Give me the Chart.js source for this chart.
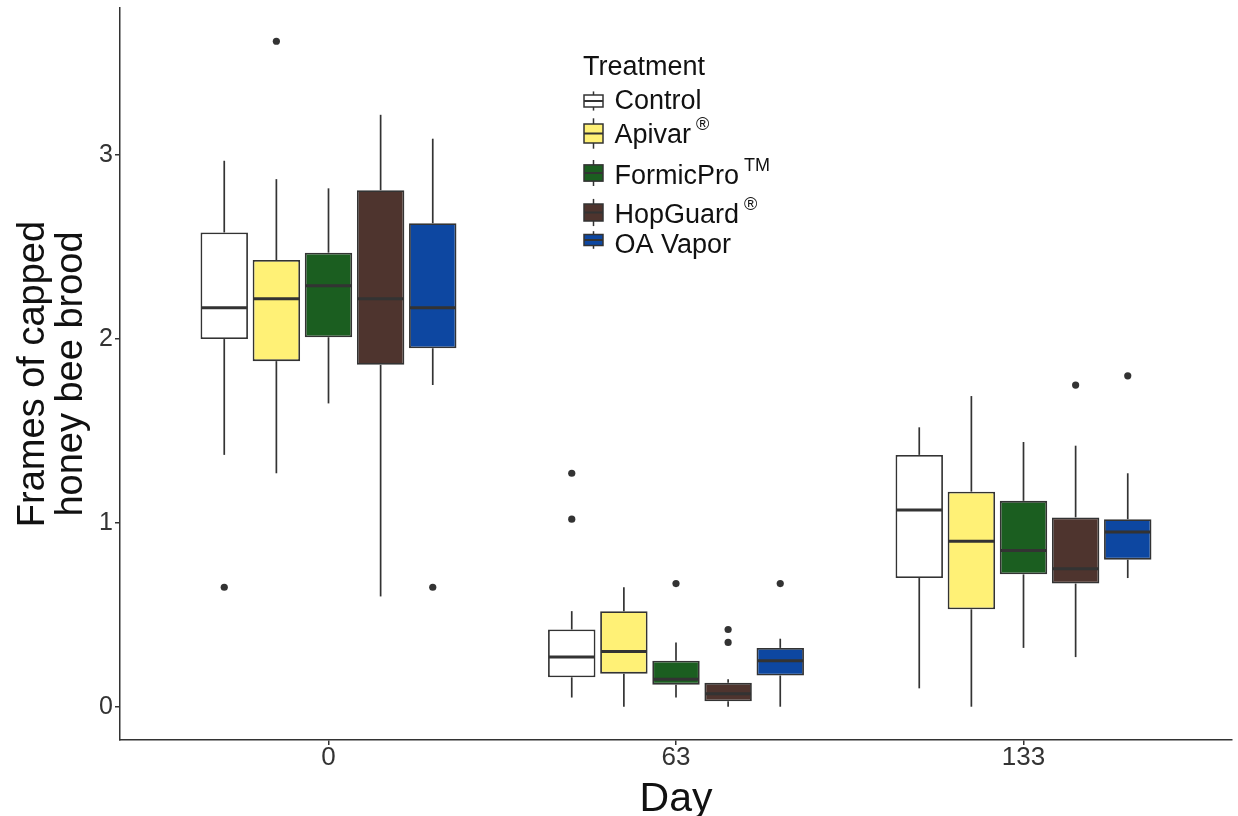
<!DOCTYPE html>
<html>
<head>
<meta charset="utf-8">
<script src="https://cdn.jsdelivr.net/npm/chart.js@4.4.1/dist/chart.umd.min.js"></script>
<style>
  html, body { margin: 0; background: #fff; }
</style>
</head>
<body>
<canvas id="brood" width="1238" height="816"></canvas>
<script>
(function(){
  const days = ['0', '63', '133'];
  const treatments = ['Control', 'Apivar', 'FormicPro', 'HopGuard', 'OA Vapor'];
  const marks = ['', '®', 'TM', '®', ''];
  const fills = ['#ffffff', '#fff176', '#1b5e20', '#4e342e', '#0d47a1'];
  const yTicks = [0, 1, 2, 3];

  // [lower whisker, q1, median, q3, upper whisker] for day 0, 63, 133
  const control   = [[1.37, 2.00, 2.17, 2.58, 2.97], [0.05, 0.16, 0.27, 0.42, 0.52], [0.10, 0.70, 1.07, 1.37, 1.52]];
  const apivar    = [[1.27, 1.88, 2.22, 2.43, 2.87], [0.00, 0.18, 0.30, 0.52, 0.65], [0.00, 0.53, 0.90, 1.17, 1.69]];
  const formicPro = [[1.65, 2.01, 2.29, 2.47, 2.82], [0.05, 0.12, 0.15, 0.25, 0.35], [0.32, 0.72, 0.85, 1.12, 1.44]];
  const hopGuard  = [[0.60, 1.86, 2.22, 2.81, 3.22], [0.00, 0.03, 0.07, 0.13, 0.15], [0.27, 0.67, 0.75, 1.03, 1.42]];
  const oaVapor   = [[1.75, 1.95, 2.17, 2.63, 3.09], [0.00, 0.17, 0.25, 0.32, 0.37], [0.70, 0.80, 0.95, 1.02, 1.27]];

  // outlying colonies per day
  const controlOut   = [[0.65], [1.27, 1.02], []];
  const apivarOut    = [[3.62], [], []];
  const formicProOut = [[], [0.67], []];
  const hopGuardOut  = [[], [0.42, 0.35], [1.75]];
  const oaVaporOut   = [[0.65], [0.67], [1.80]];

  const summaries = [control, apivar, formicPro, hopGuard, oaVapor];
  const outliers = [controlOut, apivarOut, formicProOut, hopGuardOut, oaVaporOut];

  const FONT = '"Liberation Sans", Arial, sans-serif';
  const INK = '#333333';

  function line(ctx, x1, y1, x2, y2) {
    ctx.beginPath();
    ctx.moveTo(x1, y1);
    ctx.lineTo(x2, y2);
    ctx.stroke();
  }

  // whiskers behind the boxes, medians and outlier dots on top
  const boxParts = {
    id: 'boxParts',
    beforeDatasetsDraw(chart) {
      const {ctx} = chart;
      const y = chart.scales.y;
      ctx.save();
      ctx.strokeStyle = INK;
      ctx.lineWidth = 1.7;
      chart.data.datasets.forEach((ds, i) => {
        chart.getDatasetMeta(i).data.forEach((bar, j) => {
          const s = ds.stats[j];
          line(ctx, bar.x, y.getPixelForValue(s[0]), bar.x, y.getPixelForValue(s[1]));
          line(ctx, bar.x, y.getPixelForValue(s[3]), bar.x, y.getPixelForValue(s[4]));
        });
      });
      ctx.restore();
    },
    afterDatasetsDraw(chart) {
      const {ctx} = chart;
      const y = chart.scales.y;
      ctx.save();
      ctx.strokeStyle = INK;
      ctx.fillStyle = INK;
      ctx.lineWidth = 3;
      chart.data.datasets.forEach((ds, i) => {
        chart.getDatasetMeta(i).data.forEach((bar, j) => {
          const half = bar.width / 2;
          const m = y.getPixelForValue(ds.stats[j][2]);
          line(ctx, bar.x - half + 1, m, bar.x + half - 1, m);
          ds.extra[j].forEach(v => {
            ctx.beginPath();
            ctx.arc(bar.x, y.getPixelForValue(v), 3.6, 0, Math.PI * 2);
            ctx.fill();
          });
        });
      });
      ctx.restore();
    }
  };

  // legend with boxplot keys, sized like the rows they sit in
  const keyRows = [
    {mid: 101, h: 24, base: 109},
    {mid: 133.5, h: 38, base: 143},
    {mid: 173, h: 32.5, base: 184},
    {mid: 212.5, h: 34, base: 223},
    {mid: 240, h: 22, base: 253},
  ];

  const treatmentKeys = {
    id: 'treatmentKeys',
    afterDraw(chart) {
      const {ctx} = chart;
      const cx = 593.5, half = 9.5, textX = 614.5;
      ctx.save();
      ctx.textBaseline = 'alphabetic';
      ctx.textAlign = 'left';
      ctx.fillStyle = '#111';
      ctx.font = '27px ' + FONT;
      ctx.fillText('Treatment', 583, 75);
      treatments.forEach((name, i) => {
        const row = keyRows[i];
        ctx.strokeStyle = INK;
        ctx.lineWidth = 1.5;
        line(ctx, cx, row.mid - row.h * 0.4, cx, row.mid + row.h * 0.4);
        ctx.fillStyle = fills[i];
        ctx.fillRect(cx - half, row.mid - row.h / 4, half * 2, row.h / 2);
        ctx.strokeRect(cx - half, row.mid - row.h / 4, half * 2, row.h / 2);
        ctx.lineWidth = 2;
        line(ctx, cx - half, row.mid, cx + half, row.mid);

        ctx.fillStyle = '#111';
        ctx.font = '27px ' + FONT;
        ctx.fillText(name, textX, row.base);
        if (marks[i]) {
          const w = ctx.measureText(name).width;
          ctx.font = '18px ' + FONT;
          ctx.fillText(marks[i], textX + w + 5, row.base - 13);
        }
      });
      ctx.restore();
    }
  };

  const datasets = treatments.map((name, i) => ({
    label: name,
    data: summaries[i].map((s, j) => ({x: j + 1, y: [s[1], s[3]]})),
    stats: summaries[i],
    extra: outliers[i],
    backgroundColor: fills[i],
    borderColor: INK,
    borderWidth: 1.8,
    borderSkipped: false,
    categoryPercentage: 0.75,
    barPercentage: 0.91,
  }));

  new Chart(document.getElementById('brood'), {
    type: 'bar',
    data: {datasets: datasets},
    plugins: [boxParts, treatmentKeys],
    options: {
      responsive: false,
      animation: false,
      layout: {padding: {top: 8, right: 6, left: 0, bottom: 0}},
      plugins: {
        legend: {display: false},
        tooltip: {enabled: false},
      },
      scales: {
        x: {
          type: 'linear',
          min: 0.4,
          max: 3.6,
          offset: false,
          afterBuildTicks: (scale) => { scale.ticks = days.map((d, i) => ({value: i + 1})); },
          afterFit: (scale) => { scale.height = 76; scale.paddingLeft = 0; scale.paddingRight = 0; },
          grid: {display: true, drawOnChartArea: false, drawTicks: true, tickLength: 5, tickColor: INK, lineWidth: 1.5, offset: false},
          border: {display: true, color: INK, width: 1.5},
          ticks: {
            callback: (v) => days[v - 1],
            color: '#333',
            padding: 0,
            maxRotation: 0,
            font: {family: FONT, size: 26, lineHeight: 1},
          },
          title: {
            display: true,
            text: 'Day',
            color: '#111',
            padding: {top: 0, bottom: 0},
            font: {family: FONT, size: 41, lineHeight: 0.8},
          },
        },
        y: {
          min: -0.181,
          max: 3.801,
          afterBuildTicks: (scale) => { scale.ticks = yTicks.map(v => ({value: v})); },
          afterFit: (scale) => { scale.width = 120; scale.paddingTop = 0; scale.paddingBottom = 0; },
          grid: {display: true, drawOnChartArea: false, drawTicks: true, tickLength: 5, tickColor: INK, lineWidth: 1.5},
          border: {display: true, color: INK, width: 1.5},
          ticks: {
            color: '#333',
            padding: 2,
            font: {family: FONT, size: 25, lineHeight: 1},
          },
          title: {
            display: true,
            text: ['Frames of capped', 'honey bee brood'],
            color: '#111',
            padding: {top: 15, bottom: 0},
            font: {family: FONT, size: 38, lineHeight: 1},
          },
        },
      },
    },
  });
})();
</script>
</body>
</html>
